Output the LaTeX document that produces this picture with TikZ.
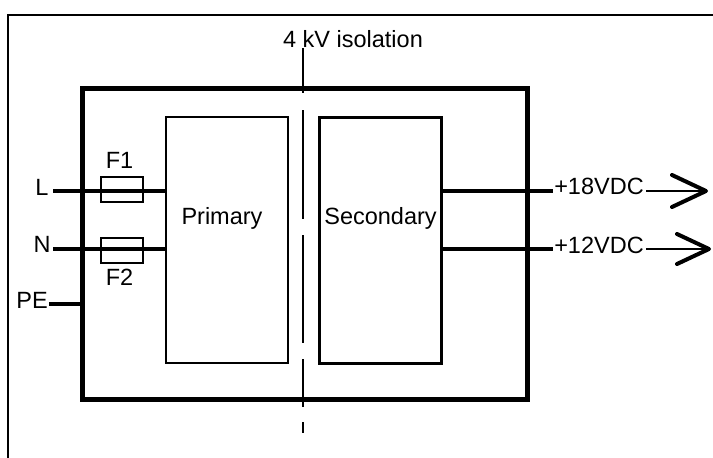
\documentclass[tikz,border=0pt]{standalone}
\usepackage{fontspec}
\setmainfont{Liberation Sans}
\begin{document}
\begin{tikzpicture}[x=1pt,y=-1pt,
  lbl/.style={inner sep=0pt, font=\fontsize{23.5}{27}\selectfont},
  blockbox/.style={draw, line width=2.4pt, inner sep=0pt, minimum width=122pt, minimum height=246pt},
  fusebox/.style={draw, line width=2pt, inner sep=0pt, minimum width=42pt, minimum height=25pt},
  wire/.style={line width=3.8pt},
  thinwire/.style={line width=2.6pt},
  barrier/.style={line width=2.4pt},
  chev/.style={line width=4pt, line cap=round, line join=round}
]
\useasboundingbox (0,0) rectangle (713,458);
% outer frame (only top and left visible)
\draw[line width=2.6pt] (713,15) -- (8,15) -- (8,458);
% thick enclosure
\node[draw, line width=5pt, inner sep=0pt, minimum width=445pt, minimum height=311pt] (encl) at (304.5,243.5) {};
% primary / secondary blocks
\node[blockbox] (prim) at (227,240) {};
\node[blockbox] (sec) at (380.5,240.5) {};
\node[lbl] (primlbl) at (222,218) {Primary};
\node[lbl] (seclbl) at (380.5,218) {Secondary};
% isolation label and dashed barrier
\node[lbl] (iso) at (353,39) {4 kV isolation};
\coordinate (d0) at (303,48);
\draw[barrier] (d0) -- (303,93);
\draw[barrier] (303,110) -- (303,219);
\draw[barrier] (303,235) -- (303,343);
\draw[barrier] (303,359) -- (303,407);
\draw[barrier] (303,422) -- (303,433);
% inputs
\node[lbl] (L) at (42,187) {L};
\node[lbl] (N) at (42,244) {N};
\node[lbl] (PE) at (32,300) {PE};
\coordinate (Lw) at (53,191);
\coordinate (Nw) at (53,249);
\coordinate (PEw) at (49,304);
\draw[wire] (Lw) -- (Lw -| prim.west);
\draw[wire] (Nw) -- (Nw -| prim.west);
\draw[wire] (PEw) -- (PEw -| encl.west);
% fuses
\node[fusebox] (f1) at (121.7,189) {};
\node[fusebox] (f2) at (121.7,250) {};
\node[lbl] (f1l) at (119.5,160) {F1};
\node[lbl] (f2l) at (119.5,277) {F2};
% outputs
\node[lbl] (o18) at (599,186) {+18VDC};
\node[lbl] (o12) at (599,245) {+12VDC};
\coordinate (o18s) at (sec.east |- 0,191);
\coordinate (o12s) at (sec.east |- 0,249);
\coordinate (t18) at (706,191);
\coordinate (t12) at (709,249);
\draw[wire] (o18s) -- (553,191);
\draw[wire] (o12s) -- (553,249);
\draw[thinwire] (646,191) -- (t18);
\draw[thinwire] (646,249) -- (t12);
\draw[chev] (672,175) -- (t18) -- (672,207);
\draw[chev] (677,234) -- (t12) -- (677,264);
\end{tikzpicture}
\end{document}
